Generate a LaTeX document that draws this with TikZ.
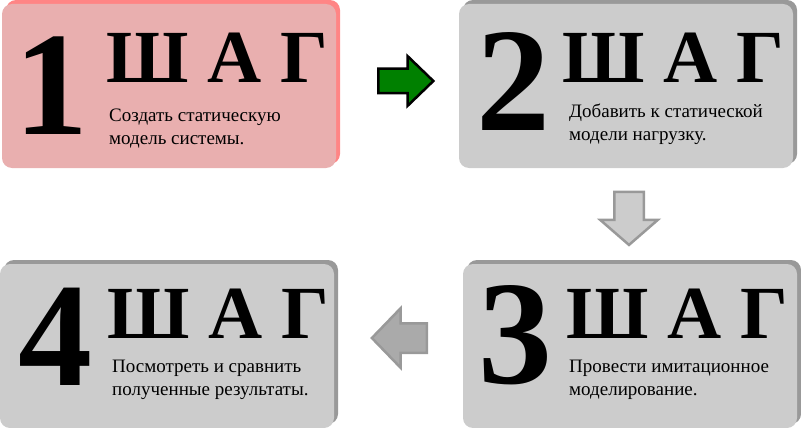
\documentclass[tikz,border=0pt]{standalone}
\usepackage{fontspec}
\setmainfont{Liberation Serif}
\usetikzlibrary{shapes.arrows, shadows}

\definecolor{pinkfill}{HTML}{E9AFAF}
\definecolor{pinkshadow}{HTML}{FF8585}
\definecolor{grayfill}{HTML}{CCCCCC}
\definecolor{grayshadow}{HTML}{999999}
\definecolor{arrowgray}{HTML}{AAAAAA}
\definecolor{arrowgreen}{HTML}{008000}

\begin{document}
\begin{tikzpicture}[
    x=1pt, y=-1pt,
    basebox/.style={rectangle, rounded corners=10pt, minimum width=334pt, minimum height=164pt, inner sep=0pt},
    stepbox/.style={basebox, fill=grayfill, drop shadow={shadow xshift=4pt, shadow yshift=4pt, fill=grayshadow, opacity=1}},
    activebox/.style={basebox, fill=pinkfill, drop shadow={shadow xshift=4pt, shadow yshift=4pt, fill=pinkshadow, opacity=1}},
    numeral/.style={font=\fontsize{148}{148}\selectfont\bfseries, inner sep=0pt, anchor=base},
    steptitle/.style={font=\fontsize{75}{75}\selectfont\bfseries, inner sep=0pt, anchor=base west},
    desc/.style={font=\fontsize{19}{23}\selectfont, align=left, inner sep=0pt, anchor=base west},
    blockarrow/.style={single arrow, single arrow head indent=0pt, inner xsep=0pt, line width=2.5pt}
]
\useasboundingbox (0,0) rectangle (801,428);

% Step boxes
\node[activebox] (s1) at (169,86) {};
\node[stepbox] (s2) at (626,86) {};
\node[stepbox] (s3) at (630,346) {};
\node[stepbox] (s4) at (167,346) {};

% Step 1
\node[numeral] (n1) at (51,134) {1};
\node[steptitle] (t1) at (106,83) {Ш А Г};
\node[desc] (d1) at (109,144) {Создать статическую\\модель системы.};

% Step 2
\node[numeral] (n2) at (513,130) {2};
\node[steptitle] (t2) at (562,83) {Ш А Г};
\node[desc] (d2) at (569,140) {Добавить к статической\\модели нагрузку.};

% Step 3
\node[numeral] (n3) at (515,383) {3};
\node[steptitle] (t3) at (566,338) {Ш А Г};
\node[desc] (d3) at (569,395) {Провести имитационное\\моделирование.};

% Step 4
\node[numeral] (n4) at (56,385) {4};
\node[steptitle] (t4) at (107,338) {Ш А Г};
\node[desc] (d4) at (112,395) {Посмотреть и сравнить\\полученные результаты.};

% Arrows
\node[blockarrow, draw=black, fill=arrowgreen, minimum height=55pt, inner ysep=11pt,
    single arrow head extend=12.5pt, single arrow tip angle=88] (a12) at (399.5,81) {};
\node[blockarrow, draw=grayshadow, fill=grayfill, minimum height=53pt, inner ysep=13.5pt,
    single arrow head extend=14pt, single arrow tip angle=98, rotate=-90] (a23) at (629,212) {};
\node[blockarrow, draw=grayshadow, fill=arrowgray, minimum height=55pt, inner ysep=13.5pt,
    single arrow head extend=15pt, single arrow tip angle=92, rotate=180] (a34) at (406.5,338) {};

\end{tikzpicture}
\end{document}
